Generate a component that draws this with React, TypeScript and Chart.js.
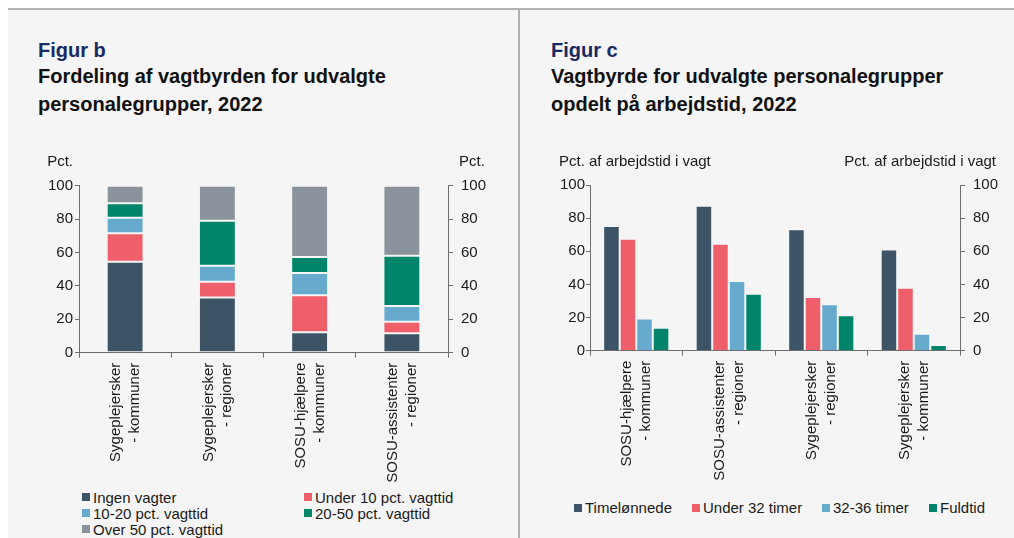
import React, { useEffect, useRef } from "react";
import { Chart, registerables } from "chart.js";

Chart.register(...registerables);

const FONT = '"Liberation Sans", Arial, Helvetica, sans-serif';
const TEXT = "#1a1a1a";
const AXIS = "#6e6e6e";
const NAVY = "#172a63";
const BG = "#f5f5f5";

const C_DARK = "#3d5366";
const C_RED = "#ee5f69";
const C_BLUE = "#66aacd";
const C_GREEN = "#00856a";
const C_GRAY = "#8a939b";

// ---------- Figur b ----------
const categoriesB = [
  ["Sygeplejersker", "- kommuner"],
  ["Sygeplejersker", "- regioner"],
  ["SOSU-hjælpere", "- kommuner"],
  ["SOSU-assistenter", "- regioner"],
];
const seriesNamesB = [
  "Ingen vagter",
  "Under 10 pct. vagttid",
  "10-20 pct. vagttid",
  "20-50 pct. vagttid",
  "Over 50 pct. vagttid",
];
const ingenVagter = [54.5, 33, 12.2, 11.6];
const under10 = [17, 9.5, 22.2, 7];
const pct10to20 = [9.3, 9.5, 13.3, 9.4];
const pct20to50 = [8.7, 27, 9.6, 30];
const over50 = [10.5, 21, 42.7, 42];
const colorsB = [C_DARK, C_RED, C_BLUE, C_GREEN, C_GRAY];

// ---------- Figur c ----------
const categoriesC = [
  ["SOSU-hjælpere", "- kommuner"],
  ["SOSU-assistenter", "- regioner"],
  ["Sygeplejersker", "- regioner"],
  ["Sygeplejersker", "- kommuner"],
];
const seriesNamesC = ["Timelønnede", "Under 32 timer", "32-36 timer", "Fuldtid"];
const timeloennede = [75.2, 87.5, 73.3, 61];
const under32 = [67.6, 64.6, 32.4, 38];
const timer32to36 = [19.5, 42, 28, 10.3];
const fuldtid = [13.9, 34.4, 21.4, 3.4];
const colorsC = [C_DARK, C_RED, C_BLUE, C_GREEN];

const yTickValues = [0, 20, 40, 60, 80, 100];

function yScale(position: string, width: number, tickLength: number, padding: number, stacked: boolean) {
  return {
    type: "linear",
    position,
    display: true,
    min: 0,
    max: 100,
    stacked,
    grid: { drawOnChartArea: false, drawTicks: true, tickLength, color: AXIS, lineWidth: 1 },
    border: { display: true, color: AXIS, width: 1 },
    ticks: { padding, color: TEXT, font: { family: FONT, size: 15 } },
    afterBuildTicks: (s: any) => {
      s.ticks = yTickValues.map((v) => ({ value: v }));
    },
    afterFit: (s: any) => {
      s.width = width;
    },
  };
}

function xScale(height: number, stacked: boolean) {
  return {
    type: "category",
    stacked,
    offset: true,
    grid: { offset: true, drawOnChartArea: false, drawTicks: true, tickLength: 5, color: AXIS, lineWidth: 1 },
    border: { display: true, color: AXIS, width: 1 },
    ticks: {
      autoSkip: false,
      maxRotation: 90,
      minRotation: 90,
      padding: 5,
      labelOffset: -9,
      color: TEXT,
      font: { family: FONT, size: 15, lineHeight: 1.25 },
    },
    afterFit: (s: any) => {
      s.height = height;
    },
  };
}

function axisTitles(cfg: {
  left: string; leftX: number; leftAlign: CanvasTextAlign;
  right: string; rightX: number; rightAlign: CanvasTextAlign; y: number;
}) {
  return {
    id: "axisTitles",
    afterDraw(chart: any) {
      const ctx = chart.ctx as CanvasRenderingContext2D;
      ctx.save();
      ctx.font = `15px ${FONT}`;
      ctx.fillStyle = TEXT;
      ctx.textBaseline = "middle";
      ctx.textAlign = cfg.leftAlign;
      ctx.fillText(cfg.left, cfg.leftX, cfg.y);
      ctx.textAlign = cfg.rightAlign;
      ctx.fillText(cfg.right, cfg.rightX, cfg.y);
      ctx.restore();
    },
  };
}

function makeB(): any {
  const values = [ingenVagter, under10, pct10to20, pct20to50, over50];
  return {
    type: "bar",
    data: {
      labels: categoriesB,
      datasets: values.map((d, i) => ({
        label: seriesNamesB[i],
        data: d,
        backgroundColor: colorsB[i],
        borderColor: "rgba(255,255,255,0.22)",
        borderWidth: 1,
        borderSkipped: false,
        barPercentage: 0.4,
        categoryPercentage: 1,
        yAxisID: "y",
      })),
    },
    options: {
      responsive: false,
      animation: false,
      layout: { padding: { top: 45.7, left: 0, right: 0, bottom: 0 } },
      plugins: { legend: { display: false }, tooltip: { enabled: false } },
      scales: {
        x: xScale(132.3, true),
        y: yScale("left", 71, 4, 2, true),
        y2: yScale("right", 60, 5, 8, false),
      },
    },
    plugins: [
      axisTitles({ left: "Pct.", leftX: 65, leftAlign: "right", right: "Pct.", rightX: 451, rightAlign: "left", y: 21.7 }),
    ],
  };
}

function makeC(): any {
  const values = [timeloennede, under32, timer32to36, fuldtid];
  return {
    type: "bar",
    data: {
      labels: categoriesC,
      datasets: values.map((d, i) => ({
        label: seriesNamesC[i],
        data: d,
        backgroundColor: colorsC[i],
        borderColor: "rgba(255,255,255,0.25)",
        borderWidth: 1,
        borderSkipped: "start",
        barPercentage: 1,
        categoryPercentage: 0.715,
        yAxisID: "y",
      })),
    },
    options: {
      responsive: false,
      animation: false,
      layout: { padding: { top: 45, left: 0, right: 0, bottom: 0 } },
      plugins: { legend: { display: false }, tooltip: { enabled: false } },
      scales: {
        x: xScale(134.3, false),
        y: yScale("left", 63, 4, 1, false),
        y2: yScale("right", 54, 5, 8, false),
      },
    },
    plugins: [
      axisTitles({
        left: "Pct. af arbejdstid i vagt", leftX: 32, leftAlign: "left",
        right: "Pct. af arbejdstid i vagt", rightX: 469, rightAlign: "right", y: 21.7,
      }),
    ],
  };
}

function ChartCanvas({ make, left, top, width, height }: { make: () => any; left: number; top: number; width: number; height: number }) {
  const ref = useRef<HTMLCanvasElement | null>(null);
  useEffect(() => {
    const chart = new Chart(ref.current as HTMLCanvasElement, make());
    return () => chart.destroy();
  }, []);
  return (
    <canvas
      ref={ref}
      width={width}
      height={height}
      style={{ position: "absolute", left, top, width, height }}
    />
  );
}

function LegendItem({ label, color, left, top }: { label: string; color: string; left: number; top: number }) {
  return (
    <div
      style={{
        position: "absolute",
        left,
        top: top - 9,
        height: 18,
        display: "flex",
        alignItems: "center",
        whiteSpace: "nowrap",
        font: `15px ${FONT}`,
        color: TEXT,
      }}
    >
      <span style={{ display: "inline-block", width: 8, height: 8, background: color, marginRight: 3 }} />
      <span>{label}</span>
    </div>
  );
}

const legendBPos = [
  [74, 489],
  [296, 489],
  [74, 505],
  [296, 505],
  [74, 521],
];
const legendCPos = [566, 684, 814, 921];

export default function App() {
  const titleStyle: React.CSSProperties = {
    position: "absolute",
    font: `bold 20px ${FONT}`,
    color: "#111",
    lineHeight: "28px",
    whiteSpace: "nowrap",
  };
  const figStyle: React.CSSProperties = {
    position: "absolute",
    font: `bold 20px ${FONT}`,
    color: NAVY,
    lineHeight: "20px",
    whiteSpace: "nowrap",
  };
  return (
    <div
      style={{
        position: "fixed",
        left: 8,
        top: 8,
        width: 1006,
        height: 530,
        background: BG,
        overflow: "hidden",
      }}
    >
      <div style={{ position: "absolute", left: 0, top: 0, width: 1006, height: 2, background: "#b3b3b3" }} />
      <div style={{ position: "absolute", left: 510, top: 0, width: 2, height: 530, background: "#b3afb3" }} />

      <div style={{ ...figStyle, left: 30, top: 32 }}>Figur b</div>
      <div style={{ ...titleStyle, left: 30, top: 54 }}>
        Fordeling af vagtbyrden for udvalgte
        <br />
        personalegrupper, 2022
      </div>

      <div style={{ ...figStyle, left: 543, top: 32 }}>Figur c</div>
      <div style={{ ...titleStyle, left: 543, top: 54 }}>
        Vagtbyrde for udvalgte personalegrupper
        <br />
        opdelt på arbejdstid, 2022
      </div>

      <ChartCanvas make={makeB} left={0} top={132} width={500} height={345} />
      <ChartCanvas make={makeC} left={519} top={132} width={487} height={345} />

      {seriesNamesB.map((n, i) => (
        <LegendItem key={n} label={n} color={colorsB[i]} left={legendBPos[i][0]} top={legendBPos[i][1]} />
      ))}
      {seriesNamesC.map((n, i) => (
        <LegendItem key={n} label={n} color={colorsC[i]} left={legendCPos[i]} top={499.7} />
      ))}
    </div>
  );
}
